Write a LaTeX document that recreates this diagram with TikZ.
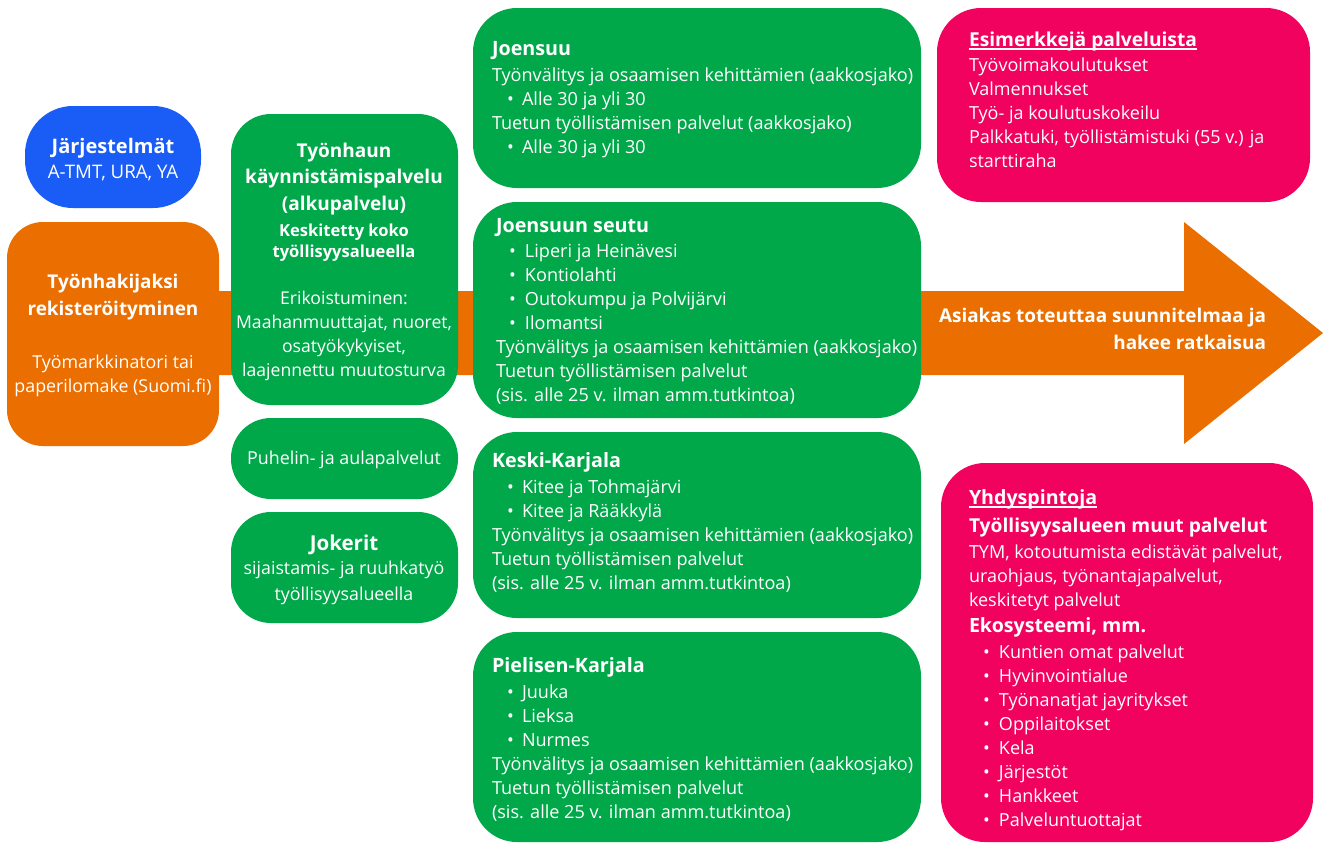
\documentclass[tikz,border=0pt]{standalone}
\usepackage{fontspec}
\setmainfont{Open Sans}
\definecolor{grn}{RGB}{0,168,74}
\definecolor{org}{RGB}{234,110,0}
\definecolor{blu}{RGB}{26,92,246}
\definecolor{pnk}{RGB}{240,2,94}
\newcommand\bl[3]{\hspace*{#1}\makebox[#2][l]{•}#3}
\newcommand\myul[1]{\leavevmode\setbox0\hbox{#1}\rlap{\vrule height -1.7pt depth 2.8pt width \wd0}\box0}
\newcommand\ttl[1]{{\fontsize{14.8}{18}\selectfont\bfseries #1}}
\newcommand\bx[7]{\node[box, fill=#6, rounded corners=#7, anchor=north west,
  minimum width={(#4-#2)*0.75pt}, minimum height={(#5-#3)*0.75pt}] (#1) at (#2,#3) {};}
\tikzset{
  box/.style={draw=none, inner sep=0pt, outer sep=0pt},
  txt/.style={inner sep=0pt, outer sep=0pt, text=white},
}
\begin{document}
\begin{tikzpicture}[x={(0.75pt,0)}, y={(0,-0.75pt)}]
\useasboundingbox (0,0) rectangle (1323,844);
% big arrow
\fill[org] (150,291) -- (1184,291) -- (1184,222) -- (1323,333) -- (1184,444) -- (1184,375) -- (150,375) -- cycle;
% boxes
\bx{sys}{25}{106}{201}{208}{blu}{36pt}
\bx{reg}{7}{222}{219}{446}{org}{27pt}
\bx{alku}{231}{114}{458}{405}{grn}{30pt}
\bx{puh}{231}{418}{458}{499}{grn}{30pt}
\bx{jok}{231}{512}{458}{623}{grn}{30pt}
\bx{joe}{473}{8}{921}{188}{grn}{33pt}
\bx{seu}{473}{202}{921}{418}{grn}{33pt}
\bx{kes}{473}{432}{921}{618}{grn}{33pt}
\bx{pie}{473}{632}{921}{842}{grn}{33pt}
\bx{esi}{937}{8}{1310}{202}{pnk}{33pt}
\bx{yhd}{941}{463}{1313}{842}{pnk}{33pt}
% Jarjestelmat
\node[txt, anchor=base] (sysT) at (113,153) {\parbox[t]{150pt}{\centering
  \fontsize{15}{18.75}\selectfont\bfseries Järjestelmät\\
  \fontsize{14}{18.75}\mdseries A-TMT, URA, YA}};
% registration
\node[txt, anchor=base] (regT) at (113,288) {\parbox[t]{160pt}{\centering
  \fontsize{14.2}{20.25}\selectfont\bfseries Työnhakijaksi\\ rekisteröityminen}};
\node[txt, anchor=base] (regB) at (113,368) {\parbox[t]{160pt}{\centering
  \fontsize{13.35}{18}\selectfont Työmarkkinatori tai\\ paperilomake (Suomi.fi)}};
% alkupalvelu
\node[txt, anchor=base] (alkuT) at (344,157) {\parbox[t]{170pt}{\centering
  \fontsize{14.25}{19.9}\selectfont\bfseries Työnhaun\\ käynnistämispalvelu\\ (alkupalvelu)}};
\node[txt, anchor=base] (alkuK) at (344,236) {\parbox[t]{170pt}{\centering
  \fontsize{12.4}{15.75}\selectfont\bfseries Keskitetty koko\\ työllisyysalueella}};
\node[txt, anchor=base] (alkuE) at (344,304) {\parbox[t]{170pt}{\centering
  \fontsize{13.2}{18}\selectfont Erikoistuminen:\\ Maahanmuuttajat, nuoret,\\ osatyökykyiset,\\ laajennettu muutosturva}};
% puhelin
\node[txt, anchor=base, font=\fontsize{13.4}{18}\selectfont] (puhT) at (344,464) {Puhelin- ja aulapalvelut};
% jokerit
\node[txt, anchor=base] (jokT) at (344,550) {\parbox[t]{170pt}{\centering
  \fontsize{13.35}{19.5}\selectfont{\fontsize{15.4}{18}\selectfont\bfseries Jokerit}\\[-1pt]
  sijaistamis- ja ruuhkatyö\\ työllisyysalueella}};
% Joensuu
\node[txt, anchor=base west] (joeT) at (492,55) {\parbox[t]{340pt}{\raggedright
  \fontsize{13.55}{18}\selectfont\ttl{Joensuu}\\[1.5pt]
  Työnvälitys ja osaamisen kehittämien (aakkosjako)\\
  \bl{11.25pt}{11.25pt}{Alle 30 ja yli 30}\\
  Tuetun työllistämisen palvelut (aakkosjako)\\
  \bl{11.25pt}{11.25pt}{Alle 30 ja yli 30}}};
% Joensuun seutu
\node[txt, anchor=base west] (seuT) at (496,232) {\parbox[t]{340pt}{\raggedright
  \fontsize{13.55}{18}\selectfont\ttl{Joensuun seutu}\\[0.75pt]
  \bl{9.75pt}{12pt}{Liperi ja Heinävesi}\\
  \bl{9.75pt}{12pt}{Kontiolahti}\\
  \bl{9.75pt}{12pt}{Outokumpu ja Polvijärvi}\\
  \bl{9.75pt}{12pt}{Ilomantsi}\\
  Työnvälitys ja osaamisen kehittämien (aakkosjako)\\
  Tuetun työllistämisen palvelut\\
  (sis. alle 25 v. ilman amm.tutkintoa)}};
% Keski-Karjala
\node[txt, anchor=base west] (kesT) at (492,467) {\parbox[t]{340pt}{\raggedright
  \fontsize{13.55}{18}\selectfont\ttl{Keski-Karjala}\\[1.5pt]
  \bl{11.25pt}{11.25pt}{Kitee ja Tohmajärvi}\\
  \bl{11.25pt}{11.25pt}{Kitee ja Rääkkylä}\\
  Työnvälitys ja osaamisen kehittämien (aakkosjako)\\
  Tuetun työllistämisen palvelut\\
  (sis. alle 25 v. ilman amm.tutkintoa)}};
% Pielisen-Karjala
\node[txt, anchor=base west] (pieT) at (492,672) {\parbox[t]{340pt}{\raggedright
  \fontsize{13.55}{18}\selectfont\ttl{Pielisen-Karjala}\\[1.5pt]
  \bl{11.25pt}{11.25pt}{Juuka}\\
  \bl{11.25pt}{11.25pt}{Lieksa}\\
  \bl{11.25pt}{11.25pt}{Nurmes}\\
  Työnvälitys ja osaamisen kehittämien (aakkosjako)\\
  Tuetun työllistämisen palvelut\\
  (sis. alle 25 v. ilman amm.tutkintoa)}};
% Esimerkkeja
\node[txt, anchor=base west] (esiT) at (969,46) {\parbox[t]{270pt}{\raggedright
  \fontsize{13.5}{18}\selectfont{\fontsize{14.4}{18}\selectfont\bfseries\myul{Esimerkkejä palveluista}}\\[0.75pt]
  Työvoimakoulutukset\\
  Valmennukset\\
  Työ- ja koulutuskokeilu\\
  Palkkatuki, työllistämistuki (55 v.) ja\\
  starttiraha}};
% arrow text
\node[txt, anchor=base east] (arrT) at (1266,322) {\parbox[t]{260pt}{\raggedleft
  \fontsize{14.2}{20.25}\selectfont\bfseries Asiakas toteuttaa suunnitelmaa ja\\ hakee ratkaisua}};
% Yhdyspintoja
\node[txt, anchor=base west] (yhdT) at (969,504) {\parbox[t]{270pt}{\raggedright
  \fontsize{14.7}{21}\selectfont\bfseries\myul{Yhdyspintoja}\\
  \fontsize{14.4}{21}\selectfont Työllisyysalueen muut palvelut}};
\node[txt, anchor=base west] (yhdB) at (969,558) {\parbox[t]{270pt}{\raggedright
  \fontsize{13.5}{18}\selectfont
  TYM, kotoutumista edistävät palvelut,\\
  uraohjaus, työnantajapalvelut,\\
  keskitetyt palvelut}};
\node[txt, anchor=base west] (yhdE) at (969,632) {\parbox[t]{270pt}{\raggedright
  \fontsize{13.5}{18}\selectfont{\fontsize{14.7}{18}\selectfont\bfseries Ekosysteemi, mm.}\\[1.5pt]
  \bl{10.5pt}{12pt}{Kuntien omat palvelut}\\
  \bl{10.5pt}{12pt}{Hyvinvointialue}\\
  \bl{10.5pt}{12pt}{Työnanatjat jayritykset}\\
  \bl{10.5pt}{12pt}{Oppilaitokset}\\
  \bl{10.5pt}{12pt}{Kela}\\
  \bl{10.5pt}{12pt}{Järjestöt}\\
  \bl{10.5pt}{12pt}{Hankkeet}\\
  \bl{10.5pt}{12pt}{Palveluntuottajat}}};
\end{tikzpicture}
\end{document}
